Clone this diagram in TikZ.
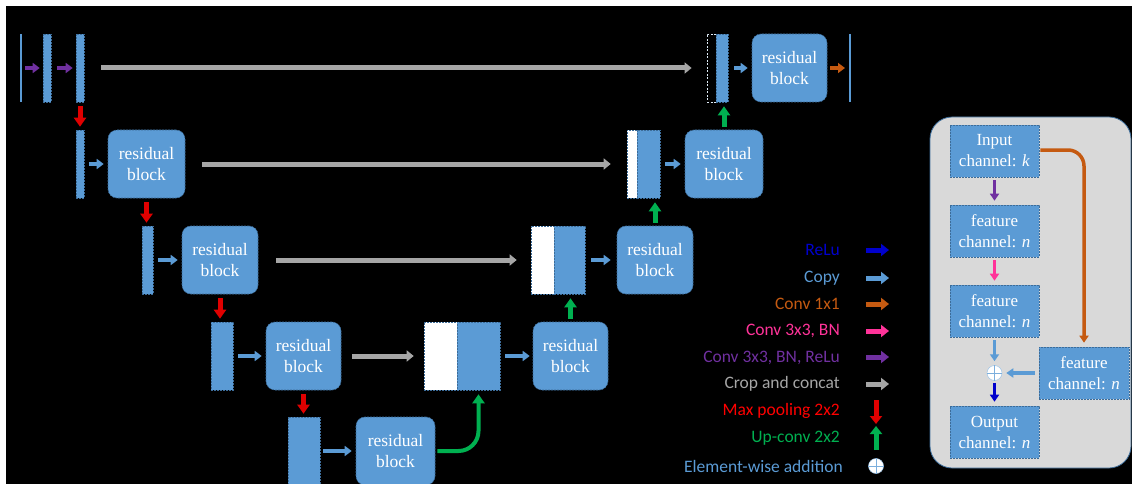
\documentclass[tikz,border=0pt]{standalone}
\usepackage{fontspec}
\setmainfont{Liberation Serif}
\newfontfamily\legendfont{Carlito}
\usetikzlibrary{arrows.meta}
\definecolor{boxblue}{HTML}{5B9BD5}
\definecolor{edgeblue}{HTML}{3C6C99}
\definecolor{cropgray}{HTML}{A6A6A6}
\definecolor{relublue}{HTML}{0000CC}
\definecolor{convorange}{HTML}{C55A11}
\definecolor{convpink}{HTML}{FF3399}
\definecolor{convpurple}{HTML}{7030A0}
\definecolor{poolred}{HTML}{E00000}
\definecolor{upgreen}{HTML}{00B050}
\definecolor{panelgray}{HTML}{D9D9D9}
\tikzset{
  bluebox/.style={fill=boxblue, draw=edgeblue, line width=0.6pt, dash pattern=on 2pt off 1pt, inner sep=0pt},
  bar/.style={bluebox, minimum height=68pt},
  thinbar/.style={fill=boxblue, inner sep=0pt, minimum width=1.6pt, minimum height=68pt},
  whitepart/.style={fill=white, draw=edgeblue, line width=0.6pt, dash pattern=on 2pt off 1pt, inner sep=0pt, minimum height=68pt},
  emptypart/.style={fill=black, draw=white!80!boxblue, line width=0.8pt, dash pattern=on 2pt off 1.5pt, inner sep=0pt, minimum height=68pt},
  resblock/.style={bluebox, rounded corners=9pt, minimum width=76pt, minimum height=68pt, text=white, align=center, font=\fontsize{17.5}{21.5}\selectfont},
  chanbox/.style={bluebox, minimum width=89pt, minimum height=52pt, text=white, align=center, font=\fontsize{17}{21}\selectfont},
  small/.style={line width=4pt, -{Triangle[length=7pt,width=10pt]}, shorten <=5pt, shorten >=4pt},
  cropar/.style={line width=5pt, cropgray, -{Triangle[length=7pt,width=11pt]}},
  poolar/.style={line width=5pt, poolred, -{Triangle[length=9pt,width=12pt]}, shorten <=4pt, shorten >=3pt},
  upar/.style={line width=5pt, upgreen, -{Triangle[length=9pt,width=12pt]}, shorten <=3pt, shorten >=4pt},
  panelar/.style={line width=3.5pt, -{Triangle[length=7pt,width=9pt]}, shorten <=3pt, shorten >=4pt},
  legtext/.style={anchor=east, inner sep=0pt, font=\legendfont\fontsize{17.5}{21}\selectfont},
  legar/.style={line width=5pt, -{Triangle[length=8pt,width=12pt]}},
}
\begin{document}
\begin{tikzpicture}[x=1pt,y=-1pt]
\useasboundingbox (0,0) rectangle (1132,484);
\clip (0,0) rectangle (1132,484);
\fill[white] (0,0) rectangle (1132,484);
\fill[black] (6,6) rectangle (1132,484);

% ---------- row 1
\node[thinbar] (in) at (21,68) {};
\node[bar, minimum width=8pt] (b1a) at (47,68) {};
\node[bar, minimum width=8pt] (b1b) at (80,68) {};
\node[emptypart, minimum width=9pt] (c1w) at (711.5,68) {};
\node[bar, minimum width=12pt] (c1b) at (722,68) {};
\node[resblock, minimum width=75pt] (r1) at (789.5,68) {residual\\block};
\node[thinbar] (out) at (850,68) {};

% ---------- row 2
\node[bar, minimum width=8pt] (b2) at (80,164) {};
\node[resblock, minimum width=77pt] (r2) at (146.5,164) {residual\\block};
\node[whitepart, minimum width=10pt] (c2w) at (632,164) {};
\node[bar, minimum width=23pt] (c2b) at (648.5,164) {};
\node[resblock, minimum width=78pt] (r2u) at (724,164) {residual\\block};

% ---------- row 3
\node[bar, minimum width=11pt] (b3) at (147.5,260) {};
\node[resblock] (r3) at (220,260) {residual\\block};
\node[whitepart, minimum width=23pt] (c3w) at (542.5,260) {};
\node[bar, minimum width=31pt] (c3b) at (569.5,260) {};
\node[resblock] (r3u) at (655,260) {residual\\block};

% ---------- row 4
\node[bar, minimum width=22pt] (b4) at (222,356) {};
\node[resblock, minimum width=75pt] (r4) at (303.5,356) {residual\\block};
\node[whitepart, minimum width=33pt] (c4w) at (440.5,356) {};
\node[bar, minimum width=43pt] (c4b) at (478.5,356) {};
\node[resblock, minimum width=75pt] (r4u) at (570.5,356) {residual\\block};

% ---------- row 5
\node[bar, minimum width=32pt] (b5) at (304,451) {};
\node[resblock, minimum width=79pt] (r5) at (395.5,451) {residual\\block};

% ---------- arrows row 1
\draw[small, convpurple, shorten <=3pt, shorten >=3pt] (in.east) -- (b1a.west);
\draw[small, convpurple, shorten <=6pt, shorten >=3pt] (b1a.east) -- (b1b.west);
\draw[cropar, shorten <=17pt, shorten >=15pt] (b1b.east) -- (c1w.west);
\draw[small, boxblue, shorten <=6pt] (c1b.east) -- (r1.west);
\draw[small, convorange, shorten <=3pt, shorten >=4pt] (r1.east) -- (out.west);

% ---------- arrows row 2
\draw[small, boxblue] (b2.east) -- (r2.west);
\draw[cropar, shorten <=17pt, shorten >=16pt] (r2.east) -- (c2w.west);
\draw[small, boxblue] (c2b.east) -- (r2u.west);

% ---------- arrows row 3
\draw[small, boxblue] (b3.east) -- (r3.west);
\draw[cropar, shorten <=18pt, shorten >=14pt] (r3.east) -- (c3w.west);
\draw[small, boxblue, shorten <=6pt, shorten >=6pt] (c3b.east) -- (r3u.west);

% ---------- arrows row 4
\draw[small, boxblue] (b4.east) -- (r4.west);
\draw[cropar, shorten <=11pt, shorten >=10pt] (r4.east) -- (c4w.west);
\draw[small, boxblue, shorten >=3pt] (c4b.east) -- (r4u.west);

% ---------- arrows row 5
\draw[small, boxblue, shorten <=3pt] (b5.east) -- (r5.west);
\draw[line width=4pt, upgreen, rounded corners=20pt, -{Triangle[length=9pt,width=12pt]}, shorten <=2pt, shorten >=4pt] (r5.east) -| (c4b.south);

% ---------- pooling (down)
\draw[poolar] (b1b.south) -- (b2.north);
\draw[poolar] (r2.south) -- (r2.south |- b3.north);
\draw[poolar] (r3.south) -- (r3.south |- b4.north);
\draw[poolar] (r4.south) -- (r4.south |- b5.north);

% ---------- up-conv (up)
\draw[upar] (r2u.north) -- (r2u.north |- c1b.south);
\draw[upar] (r3u.north) -- (r3u.north |- c2b.south);
\draw[upar] (r4u.north) -- (r4u.north |- c3b.south);

% ---------- legend
\node[legtext, text=relublue] (l1) at (840,250) {ReLu};
\node[legtext, text=boxblue] (l2) at (840,278) {Copy};
\node[legtext, text=convorange] (l3) at (840,304) {Conv 1x1};
\node[legtext, text=convpink] (l4) at (840,331) {Conv 3x3, BN};
\node[legtext, text=convpurple] (l5) at (840,358) {Conv 3x3, BN, ReLu};
\node[legtext, text=cropgray] (l6) at (840,384) {Crop and concat};
\node[legtext, text=red] (l7) at (840,411) {Max pooling 2x2};
\node[legtext, text=upgreen] (l8) at (840,438) {Up-conv 2x2};
\node[legtext, text=boxblue] (l9) at (843,466) {Element-wise addition};
\coordinate (a1s) at (866,250); \coordinate (a1e) at (889,250);
\coordinate (a2s) at (866,278); \coordinate (a2e) at (889,278);
\coordinate (a3s) at (866,304); \coordinate (a3e) at (889,304);
\coordinate (a4s) at (866,331); \coordinate (a4e) at (889,331);
\coordinate (a5s) at (866,357); \coordinate (a5e) at (889,357);
\coordinate (a6s) at (866,384); \coordinate (a6e) at (889,384);
\coordinate (a7s) at (876,400); \coordinate (a7e) at (876,424);
\coordinate (a8s) at (876,450); \coordinate (a8e) at (876,426);
\draw[legar, relublue] (a1s) -- (a1e);
\draw[legar, boxblue] (a2s) -- (a2e);
\draw[legar, convorange] (a3s) -- (a3e);
\draw[legar, convpink] (a4s) -- (a4e);
\draw[legar, convpurple] (a5s) -- (a5e);
\draw[legar, cropgray] (a6s) -- (a6e);
\draw[legar, poolred] (a7s) -- (a7e);
\draw[legar, upgreen] (a8s) -- (a8e);
\node[circle, fill=white, draw=boxblue!60, line width=0.5pt, minimum size=15pt, inner sep=0pt] (lplus) at (876,466) {};
\draw[boxblue!80, line width=1pt] (lplus.north) -- (lplus.south) (lplus.west) -- (lplus.east);

% ---------- residual block panel
\node[fill=panelgray, draw=edgeblue, line width=0.8pt, rounded corners=22pt, minimum width=201pt, minimum height=351pt, inner sep=0pt] (panel) at (1030.5,292.5) {};
\node[chanbox] (pin) at (994.5,151) {Input\\channel: \textit{k}};
\node[chanbox] (pf1) at (994.5,231) {feature\\channel: \textit{n}};
\node[chanbox] (pf2) at (994.5,311) {feature\\channel: \textit{n}};
\node[chanbox] (pout) at (994.5,432) {Output\\channel: \textit{n}};
\node[chanbox, minimum width=90pt] (pside) at (1084,373) {feature\\channel: \textit{n}};
\node[circle, fill=white, draw=boxblue!60, line width=0.5pt, minimum size=15pt, inner sep=0pt] (plus) at (994.5,373) {};
\draw[boxblue!80, line width=1pt] (plus.north) -- (plus.south) (plus.west) -- (plus.east);
\draw[panelar, convpurple] (pin.south) -- (pf1.north);
\draw[panelar, convpink] (pf1.south) -- (pf2.north);
\draw[panelar, boxblue] (pf2.south) -- (plus.north);
\draw[panelar, relublue, shorten <=2pt] (plus.south) -- (pout.north);
\draw[panelar, boxblue, shorten <=4pt, shorten >=4pt] (pside.west) -- (plus.east);
\draw[line width=3.5pt, convorange, rounded corners=16pt, -{Triangle[length=7pt,width=9pt]}, shorten <=1pt, shorten >=4pt] (pin.east |- 0,150) -| (pside.north);
\end{tikzpicture}
\end{document}
